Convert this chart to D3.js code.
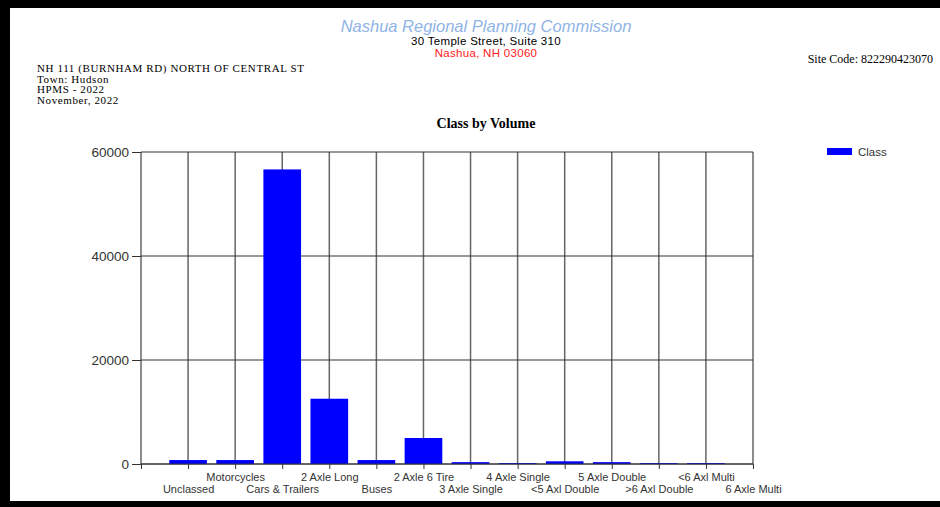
<!DOCTYPE html>
<html>
<head>
<meta charset="utf-8">
<script src="https://cdn.jsdelivr.net/npm/d3@7"></script>
<style>
  body { margin: 0; background: #fff; }
  svg { display: block; }
</style>
</head>
<body>
<svg id="chart"></svg>
<script>
// class counts
var categories = ['Unclassed', 'Motorcycles', 'Cars & Trailers', '2 Axle Long', 'Buses',
  '2 Axle 6 Tire', '3 Axle Single', '4 Axle Single', '<5 Axl Double', '5 Axle Double',
  '>6 Axl Double', '<6 Axl Multi', '6 Axle Multi'];
var volumes = [760, 760, 56650, 12550, 760, 5000, 360, 180, 520, 360, 180, 180, 0];
var yTicks = [0, 20000, 40000, 60000];
var headerLines = ['NH 111 (BURNHAM RD) NORTH OF CENTRAL ST', 'Town: Hudson', 'HPMS - 2022', 'November, 2022'];

var svgWidth = 940, svgHeight = 507,
	margins = {top: 152, right: 187, bottom: 43, left: 141},
	width = svgWidth - margins.left - margins.right,
	height = svgHeight - margins.top - margins.bottom,
	bar_color = '#0000ff';

var vis = d3.select('#chart')
	.attr('width', svgWidth)
	.attr('height', svgHeight);

// page frame (scanned report edges)
vis.append('rect').attr('x', 0).attr('y', 0).attr('width', svgWidth).attr('height', 8).attr('fill', '#000');
vis.append('rect').attr('x', 0).attr('y', 0).attr('width', 10).attr('height', svgHeight).attr('fill', '#000');
vis.append('rect').attr('x', 0).attr('y', 501).attr('width', svgWidth).attr('height', 6).attr('fill', '#000');

// header
vis.append('text')
	.attr('x', 486).attr('y', 31.5)
	.attr('text-anchor', 'middle')
	.style('font', 'italic 16.5px "Liberation Sans", Arial, sans-serif')
	.attr('fill', '#8fb4e6')
	.text('Nashua Regional Planning Commission');
vis.append('text')
	.attr('x', 486).attr('y', 44.5)
	.attr('text-anchor', 'middle')
	.style('font', '11.5px "Liberation Sans", Arial, sans-serif')
	.style('letter-spacing', '0.3px')
	.attr('fill', '#000')
	.text('30 Temple Street, Suite 310');
vis.append('text')
	.attr('x', 486).attr('y', 57)
	.attr('text-anchor', 'middle')
	.style('font', '11.5px "Liberation Sans", Arial, sans-serif')
	.style('letter-spacing', '0.3px')
	.attr('fill', '#ff2020')
	.text('Nashua, NH 03060');
vis.append('text')
	.attr('x', 933).attr('y', 63)
	.attr('text-anchor', 'end')
	.style('font', '12px "Liberation Serif", "Times New Roman", serif')
	.attr('fill', '#000')
	.text('Site Code: 822290423070');

vis.append('g').selectAll('text')
	.data(headerLines)
	.enter().append('text')
	.attr('x', 37)
	.attr('y', function(d, i) { return 72 + i * 10.5; })
	.style('font', '11px "Liberation Serif", "Times New Roman", serif')
	.style('letter-spacing', '0.6px')
	.attr('fill', '#000')
	.text(function(d) { return d; });

vis.append('text')
	.attr('x', 486).attr('y', 128)
	.attr('text-anchor', 'middle')
	.style('font', 'bold 14px "Liberation Serif", "Times New Roman", serif')
	.attr('fill', '#000')
	.text('Class by Volume');

var g = vis.append('g')
	.attr('transform', 'translate(' + margins.left + ',' + margins.top + ')');

// the y axis sits one slot left of the first category
var x = d3.scaleLinear().domain([-1, categories.length - 1]).range([0, width]);
var y = d3.scaleLinear().domain([0, 60000]).range([height, 0]);
var step = x(1) - x(0);

// vertical grid lines at each category
g.append('g').selectAll('line')
	.data(d3.range(-1, categories.length))
	.enter().append('line')
	.attr('x1', function(d) { return x(d); })
	.attr('x2', function(d) { return x(d); })
	.attr('y1', 0)
	.attr('y2', height)
	.attr('stroke', '#666')
	.attr('stroke-width', 1.5);

// horizontal grid lines
g.append('g').selectAll('line')
	.data(yTicks)
	.enter().append('line')
	.attr('x1', 0)
	.attr('x2', width)
	.attr('y1', function(d) { return y(d); })
	.attr('y2', function(d) { return y(d); })
	.attr('stroke', '#333')
	.attr('stroke-width', 1.2);

// bars
g.append('g').selectAll('rect')
	.data(volumes)
	.enter().append('rect')
	.attr('x', function(d, i) { return x(i) - step * 0.4; })
	.attr('width', step * 0.8)
	.attr('y', function(d) { return y(d); })
	.attr('height', function(d) { return height - y(d); })
	.attr('fill', bar_color);

// Y axis
var yAxis = g.append('g')
	.call(d3.axisLeft(y).tickValues(yTicks).tickFormat(d3.format('d')).tickSize(9).tickPadding(3));
yAxis.select('.domain').remove();
yAxis.selectAll('line').attr('stroke', '#333');
yAxis.selectAll('text')
	.style('font', '13.5px "Liberation Sans", Arial, sans-serif')
	.attr('fill', '#333');

// X axis with staggered labels
var xAxis = g.append('g')
	.attr('transform', 'translate(0,' + height + ')')
	.call(d3.axisBottom(x)
		.tickValues(d3.range(-1, categories.length))
		.tickSize(5)
		.tickFormat(function(d) { return d < 0 ? '' : categories[d]; }));
xAxis.select('.domain').attr('stroke', '#333').attr('d', 'M0,0H' + width);
xAxis.selectAll('line').attr('stroke', '#333');
xAxis.selectAll('text')
	.attr('y', function(d) { return d % 2 === 0 ? 21 : 9; })
	.attr('dy', '0.71em')
	.style('font', '11px "Liberation Sans", Arial, sans-serif')
	.attr('fill', '#333');

// legend
var legend = vis.append('g').attr('transform', 'translate(827,148)');
legend.append('rect')
	.attr('width', 25).attr('height', 7)
	.attr('fill', bar_color);
legend.append('text')
	.attr('x', 31).attr('y', 8)
	.style('font', '11.5px "Liberation Sans", Arial, sans-serif')
	.attr('fill', '#333')
	.text('Class');
</script>
</body>
</html>
